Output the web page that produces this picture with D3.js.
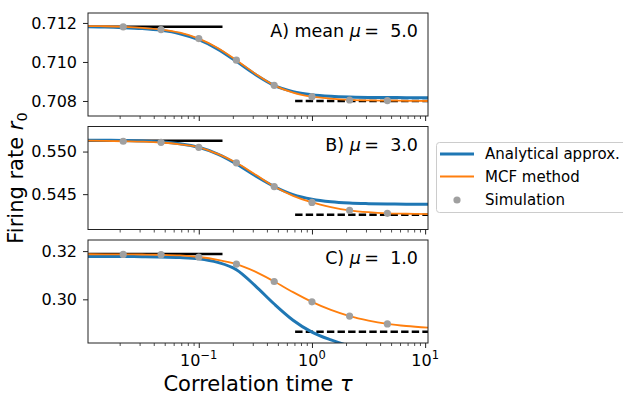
<!DOCTYPE html>
<html>
<head>
<meta charset="utf-8">
<script src="https://cdn.jsdelivr.net/npm/d3@7"></script>
<style>
  body { margin: 0; background: #fff; }
  text { font-family: "DejaVu Sans", sans-serif; fill: #000; white-space: pre; }
</style>
</head>
<body>
<div id="chart"></div>
<script>
// Времена корреляции для симуляции и для кривых
const simTau = [0.0215, 0.0464, 0.1, 0.215, 0.464, 1.0, 2.15, 4.64];
const curveTau = [0.0105, 0.0147, 0.0215, 0.0316, 0.0464, 0.0681, 0.1, 0.147, 0.215,
                  0.316, 0.464, 0.681, 1.0, 1.47, 2.15, 3.16, 4.64, 6.81, 10.6];

// A) mu = 5.0
const simA = [0.71180, 0.71166, 0.71120, 0.71009, 0.70880, 0.70822, 0.70805, 0.70802];
const analyticA = [0.71180, 0.71179, 0.71176, 0.71171, 0.71162, 0.71145, 0.71114, 0.71066, 0.71003,
                   0.70936, 0.70880, 0.70848, 0.70832, 0.70824, 0.70820, 0.70818, 0.70818, 0.70817, 0.70817];
const mcfA = [0.71184, 0.71183, 0.71180, 0.71175, 0.71166, 0.71150, 0.71120, 0.71072, 0.71009,
              0.70940, 0.70880, 0.70843, 0.70822, 0.70812, 0.70806, 0.70803, 0.70802, 0.70801, 0.70800];
const limitsA = [0.71180, 0.70800];
const yTicksA = [0.708, 0.710, 0.712];

// B) mu = 3.0
const simB = [0.55121, 0.55108, 0.55050, 0.54868, 0.54589, 0.54403, 0.54310, 0.54275];
const analyticB = [0.55134, 0.55133, 0.55130, 0.55124, 0.55115, 0.55092, 0.55050, 0.54970, 0.54855,
                   0.54715, 0.54590, 0.54495, 0.54440, 0.54410, 0.54395, 0.54388, 0.54384, 0.54382, 0.54381];
const mcfB = [0.55128, 0.55126, 0.55121, 0.55116, 0.55106, 0.55085, 0.55050, 0.54972, 0.54868,
              0.54730, 0.54589, 0.54480, 0.54403, 0.54349, 0.54310, 0.54288, 0.54275, 0.54270, 0.54265];
const limitsB = [0.55128, 0.54259];
const yTicksB = [0.545, 0.550];

// C) mu = 1.0
const simC = [0.31863, 0.31850, 0.31755, 0.31462, 0.30740, 0.29895, 0.29305, 0.28980];
const analyticC = [0.31780, 0.31778, 0.31775, 0.31770, 0.31760, 0.31735, 0.31680, 0.31530, 0.31230,
                   0.30560, 0.29807, 0.29136, 0.28640, 0.28318, 0.28070, 0.27950, 0.27880, 0.27840, 0.27820];
const mcfC = [0.31870, 0.31868, 0.31864, 0.31858, 0.31848, 0.31822, 0.31755, 0.31640, 0.31462,
              0.31150, 0.30740, 0.30300, 0.29895, 0.29560, 0.29305, 0.29120, 0.28985, 0.28895, 0.28828];
const limitsC = [0.31876, 0.28660];
const yTicksC = [0.30, 0.32];

// Границы горизонтальных асимптот (малые и большие tau)
const shortTauEnd = 0.162;
const longTauStart = 0.71;

const xMajorTicks = [0.1, 1, 10];
const xTickExp = ["\u22121", "0", "1"];
const legendLabels = ["Analytical approx.", "MCF method", "Simulation"];

const BLUE = "#1f77b4", ORANGE = "#ff7f0e", GREY = "#a0a0a0";

const W = 623, H = 396;
const left = 88, right = 428, panelH = 103;

const panels = [
  {top: 13,  dom: [0.70723, 0.71251], sim: simA, an: analyticA, mcf: mcfA, lim: limitsA, ticks: yTicksA, fmt: d3.format(".3f"),
   label: ["A) mean ", "5.0"]},
  {top: 126.5, dom: [0.54085, 0.55294], sim: simB, an: analyticB, mcf: mcfB, lim: limitsB, ticks: yTicksB, fmt: d3.format(".3f"),
   label: ["B) ", "3.0"]},
  {top: 240, dom: [0.2819, 0.3246], sim: simC, an: analyticC, mcf: mcfC, lim: limitsC, ticks: yTicksC, fmt: d3.format(".2f"),
   label: ["C) ", "1.0"]}
];

const svg = d3.select("#chart").append("svg")
  .attr("width", W).attr("height", H);
svg.append("rect").attr("width", W).attr("height", H).attr("fill", "#fff");

const x = d3.scaleLog().domain([0.0105, 10.6]).range([left, right]);

// минорные тики 2..9 в каждой декаде
let xMinor = [];
[0.01, 0.1, 1].forEach(dec => {
  for (let k = 2; k <= 9; k++) xMinor.push(dec * k);
});

panels.forEach((p, i) => {
  const y = d3.scaleLinear().domain(p.dom).range([p.top + panelH, p.top]);
  const g = svg.append("g");

  const clipId = "clip" + i;
  svg.append("clipPath").attr("id", clipId)
    .append("rect").attr("x", left).attr("y", p.top)
    .attr("width", right - left).attr("height", panelH);

  const plot = g.append("g").attr("clip-path", "url(#" + clipId + ")");

  // асимптоты
  plot.append("line")
    .attr("x1", x(x.domain()[0])).attr("x2", x(shortTauEnd))
    .attr("y1", y(p.lim[0])).attr("y2", y(p.lim[0]))
    .attr("stroke", "#000").attr("stroke-width", 2.5);
  plot.append("line")
    .attr("x1", x(longTauStart)).attr("x2", x(x.domain()[1]))
    .attr("y1", y(p.lim[1])).attr("y2", y(p.lim[1]))
    .attr("stroke", "#000").attr("stroke-width", 2.5)
    .attr("stroke-dasharray", "7.4,3.2");

  const line = d3.line()
    .x(d => x(d[0])).y(d => y(d[1]))
    .curve(d3.curveMonotoneX);

  plot.append("path")
    .datum(curveTau.map((t, j) => [t, p.an[j]]))
    .attr("d", line).attr("fill", "none")
    .attr("stroke", BLUE).attr("stroke-width", 3);

  plot.append("path")
    .datum(curveTau.map((t, j) => [t, p.mcf[j]]))
    .attr("d", line).attr("fill", "none")
    .attr("stroke", ORANGE).attr("stroke-width", 1.8);

  plot.selectAll("circle")
    .data(simTau.map((t, j) => [t, p.sim[j]]))
    .join("circle")
    .attr("cx", d => x(d[0])).attr("cy", d => y(d[1]))
    .attr("r", 3.6).attr("fill", GREY);

  // рамка
  g.append("rect")
    .attr("x", left).attr("y", p.top)
    .attr("width", right - left).attr("height", panelH)
    .attr("fill", "none").attr("stroke", "#222").attr("stroke-width", 1);

  // ось Y
  const yAxis = g.append("g").attr("transform", `translate(${left},0)`)
    .call(d3.axisLeft(y).tickValues(p.ticks).tickSize(5).tickPadding(6).tickFormat(p.fmt));
  yAxis.select(".domain").remove();
  yAxis.selectAll("line").attr("stroke", "#222");
  yAxis.selectAll("text").attr("font-size", 16).attr("font-family", "DejaVu Sans");

  // ось X
  const xb = p.top + panelH;
  const xAxis = g.append("g").attr("transform", `translate(0,${xb})`)
    .call(d3.axisBottom(x).tickValues(xMajorTicks).tickSize(5).tickFormat(""));
  xAxis.select(".domain").remove();
  xAxis.selectAll("line").attr("stroke", "#222");
  const xAxisMinor = g.append("g").attr("transform", `translate(0,${xb})`)
    .call(d3.axisBottom(x).tickValues(xMinor).tickSize(3).tickFormat(""));
  xAxisMinor.select(".domain").remove();
  xAxisMinor.selectAll("line").attr("stroke", "#222").attr("stroke-width", 0.8);

  if (i === panels.length - 1) {
    xMajorTicks.forEach((t, j) => {
      const tx = svg.append("text")
        .attr("x", x(t)).attr("y", xb + 23)
        .attr("text-anchor", "middle").attr("font-size", 16);
      tx.append("tspan").text("10");
      tx.append("tspan").attr("font-size", 11.5).attr("dy", -7).text(xTickExp[j]);
    });
  }

  // подпись панели
  const lab = g.append("text")
    .attr("x", right - 10).attr("y", p.top + 24)
    .attr("text-anchor", "end").attr("font-size", 17.5);
  lab.append("tspan").text(p.label[0]);
  lab.append("tspan").attr("font-style", "italic").text("\u03bc");
  lab.append("tspan").text("\u2009=\u00a0\u00a0" + p.label[1]);
});

// подписи осей
const xl = svg.append("text")
  .attr("x", (left + right) / 2).attr("y", 391)
  .attr("text-anchor", "middle").attr("font-size", 21);
xl.append("tspan").text("Correlation time ");
xl.append("tspan").attr("font-style", "italic").text("\u03c4");

const yl = svg.append("text")
  .attr("transform", `translate(23,${(13 + 343) / 2}) rotate(-90)`)
  .attr("text-anchor", "middle").attr("font-size", 21);
yl.append("tspan").text("Firing rate ");
yl.append("tspan").attr("font-style", "italic").text("r");
yl.append("tspan").attr("font-size", 14.5).attr("dy", 4).text("0");

// легенда
const lg = svg.append("g");
lg.append("rect")
  .attr("x", 436.5).attr("y", 142.5).attr("width", 200).attr("height", 70)
  .attr("rx", 3).attr("fill", "#fff").attr("fill-opacity", 0.8)
  .attr("stroke", "#ccc").attr("stroke-width", 1);
const rowY = [154, 176.5, 200];
lg.append("line").attr("x1", 440).attr("x2", 474).attr("y1", rowY[0]).attr("y2", rowY[0])
  .attr("stroke", BLUE).attr("stroke-width", 3);
lg.append("line").attr("x1", 440).attr("x2", 474).attr("y1", rowY[1]).attr("y2", rowY[1])
  .attr("stroke", ORANGE).attr("stroke-width", 1.8);
lg.append("circle").attr("cx", 457).attr("cy", rowY[2]).attr("r", 3.6).attr("fill", GREY);
legendLabels.forEach((s, j) => {
  lg.append("text").attr("x", 485).attr("y", rowY[j])
    .attr("dy", "0.36em").attr("font-size", 15).text(s);
});
</script>
</body>
</html>
